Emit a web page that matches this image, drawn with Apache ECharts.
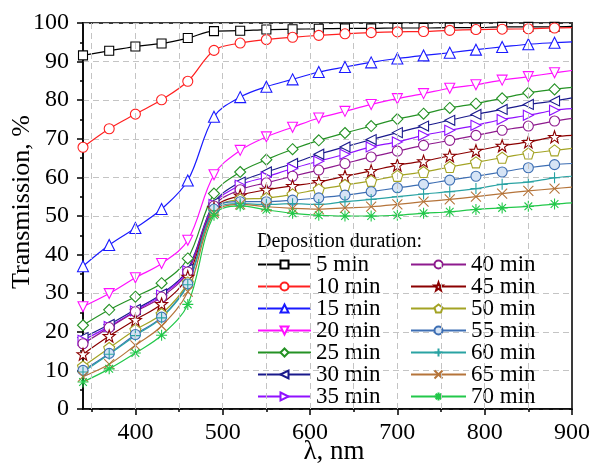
<!DOCTYPE html>
<html>
<head>
<meta charset="utf-8">
<script src="https://cdn.jsdelivr.net/npm/echarts@6/dist/echarts.min.js"></script>
<style>html,body{margin:0;padding:0;background:#fff;}#c{width:593px;height:470px;}</style>
</head>
<body>
<div id="c"></div>
<script>
// wavelengths (nm); the last point (900) carries no marker
const wavelengths = [340,370,400,430,460,490,520,550,580,610,640,670,700,730,760,790,820,850,880,900];
const names = ['5 min','10 min','15 min','20 min','25 min','30 min','35 min','40 min','45 min','50 min','55 min','60 min','65 min','70 min'];
const t5  = [91.6,92.8,93.9,94.7,96.1,97.9,98.0,98.3,98.4,98.5,98.6,98.6,98.7,98.7,98.8,98.8,99.0,99.0,99.0,99.1];
const t10 = [67.8,72.6,76.4,80.1,84.9,92.9,94.8,95.7,96.3,96.8,97.2,97.5,97.7,97.8,98.1,98.3,98.4,98.5,98.7,98.8];
const t15 = [37.0,42.5,46.9,51.8,59.2,75.7,80.8,83.5,85.4,87.3,88.6,89.8,90.8,91.6,92.3,93.1,93.8,94.5,94.9,95.1];
const t20 = [26.5,29.9,34.0,37.7,43.7,60.7,67.0,70.5,73.0,75.4,77.1,78.9,80.4,81.7,83.1,84.0,85.2,86.1,87.1,87.7];
const t25 = [21.7,25.7,29.1,32.6,39.0,55.8,61.4,64.6,67.3,69.6,71.5,73.3,75.1,76.5,78.0,79.1,80.5,81.9,82.8,83.3];
const t30 = [18.5,21.9,25.8,29.8,36.2,53.4,58.8,61.4,63.6,66.0,67.9,69.8,71.6,73.3,74.8,76.3,77.6,78.9,79.8,80.6];
const t35 = [17.8,21.4,25.4,29.5,35.8,53.0,58.0,60.1,62.3,64.2,66.0,67.9,69.2,70.9,72.2,73.5,75.0,76.1,77.4,77.8];
const t40 = [16.9,21.1,25.2,29.0,35.5,52.6,56.8,58.6,60.3,61.9,63.6,65.3,66.8,68.3,69.6,70.9,72.2,73.3,74.6,75.3];
const t45 = [14.2,18.9,23.1,27.2,34.3,52.0,55.3,56.8,57.8,58.8,60.3,61.7,63.2,64.2,65.6,66.9,68.2,69.2,70.5,70.9];
const t50 = [11.0,15.8,20.5,24.6,32.8,51.6,54.3,54.6,55.6,56.9,58.0,59.1,60.4,61.4,62.7,63.9,65.1,66.2,67.0,67.5];
const t55 = [10.0,14.4,19.3,23.8,32.4,51.8,53.7,53.7,54.1,54.7,55.4,56.3,57.3,58.2,59.3,60.3,61.4,62.5,63.3,63.6];
const t60 = [9.6,14.2,19.0,23.6,32.2,51.4,53.2,53.0,53.2,53.0,53.7,54.3,55.0,55.7,56.3,57.1,58.2,58.8,59.9,60.3];
const t65 = [8.4,11.6,16.5,21.5,30.4,50.8,53.0,52.4,52.0,51.8,52.1,52.4,53.0,53.7,54.3,55.0,55.8,56.5,57.1,57.5];
const t70 = [7.0,10.4,14.5,19.1,27.1,50.2,52.6,51.6,50.7,50.2,50.0,50.0,50.2,50.7,51.1,51.7,52.1,52.5,53.1,53.4];
const values = [t5,t10,t15,t20,t25,t30,t35,t40,t45,t50,t55,t60,t65,t70];

const xLabelTicks = [400,500,600,700,800,900];
const xMinorTicks = [350,450,550,650,750,850];
const xGridLines = [350,400,450,500,550,600,650,700,750,800,850];

const colors = ['#000000','#ff2020','#1a1aff','#ff10ff','#259225','#1a1a8c','#9010ff','#8e1a8e','#8b0000','#a3a324','#3d6eb3','#2aa3a3','#b5743a','#22c84a'];
const symbols = [
  'rect','circle','triangle',
  'path://M0,0 L10,0 L5,8.66 Z',
  'diamond',
  'path://M0,5 L8.66,0 L8.66,10 Z',
  'path://M0,0 L8.66,5 L0,10 Z',
  'circle',
  'path://M10,0 L12.35,6.76 L19.51,6.91 L13.8,11.24 L15.88,18.09 L10,14 L4.12,18.09 L6.2,11.24 L0.49,6.91 L7.65,6.76 Z',
  'path://M10,0 L19.51,6.91 L15.88,18.09 L4.12,18.09 L0.49,6.91 Z',
  'circle',
  'path://M5,0 L5,10 M0,5 L10,5',
  'path://M0,0 L10,10 M0,10 L10,0',
  'path://M5,0 L5,10 M0,5 L10,5 M1.5,1.5 L8.5,8.5 M1.5,8.5 L8.5,1.5'
];
const sizes = [9,10,11,10,11,10,10,10,12,11,10,11,10,11];
const fills = ['#fff','#fff','#fff','#fff','#fff','#fff','#fff','#fff','#fff','#fff','#d6e4f5','#fff','#fff','#fff'];

const serif = '"Liberation Serif","DejaVu Serif",serif';

const series = names.map((n, i) => ({
  name: n,
  type: 'line',
  z: 3,
  smooth: 0.35,
  color: colors[i],
  symbol: symbols[i],
  symbolSize: sizes[i],
  lineStyle: {color: colors[i], width: 1.2},
  itemStyle: {color: fills[i], borderColor: colors[i], borderWidth: 1.1},
  data: wavelengths.map((w, k) => k === wavelengths.length - 1
    ? {value: [w, values[i][k]], symbol: 'none'}
    : [w, values[i][k]])
}));
series.unshift({
  name: 'grid', type: 'line', z: 1, data: [], silent: true,
  markLine: {
    silent: true, symbol: ['none','none'], label: {show: false},
    lineStyle: {type: [6,4], color: '#c4c4c4', width: 1},
    emphasis: {disabled: true},
    data: xGridLines.map(v => ({xAxis: v}))
  }
});

const legendCommon = {
  orient: 'vertical', itemWidth: 53, itemHeight: 10, itemGap: -1,
  textStyle: {fontFamily: serif, fontSize: 23, color: '#000'},
  selectedMode: false, padding: 0
};

const chart = echarts.init(document.getElementById('c'), null, {renderer: 'canvas'});
chart.setOption({
  animation: false,
  backgroundColor: '#fff',
  grid: {left: 83, right: 21, top: 23, bottom: 61, show: true, borderColor: '#3a3a3a', borderWidth: 2},
  xAxis: [{
    type: 'value', min: 340, max: 900,
    axisLine: {lineStyle: {color: '#000', width: 1.5}},
    axisTick: {customValues: xLabelTicks, length: 6, lineStyle: {color: '#000', width: 1.5}},
    axisLabel: {customValues: xLabelTicks, margin: 12, fontFamily: serif, fontSize: 24, color: '#000'},
    splitLine: {show: false}
  }, {
    type: 'value', min: 340, max: 900, position: 'bottom',
    axisLine: {show: false},
    axisTick: {customValues: xMinorTicks, length: 3, lineStyle: {color: '#000', width: 1.5}},
    axisLabel: {show: false},
    splitLine: {show: false}
  }],
  yAxis: {
    type: 'value', min: 0, max: 100, interval: 10,
    axisLine: {show: true, lineStyle: {color: '#000', width: 1.5}},
    axisTick: {show: true, length: 6, lineStyle: {color: '#000', width: 1.5}},
    minorTick: {show: true, splitNumber: 2, length: 3, lineStyle: {color: '#000', width: 1.5}},
    axisLabel: {margin: 14, fontFamily: serif, fontSize: 24, color: '#000'},
    splitLine: {show: true, lineStyle: {type: [6,4], color: '#c4c4c4', width: 1}}
  },
  legend: [
    Object.assign({}, legendCommon, {data: names.slice(0,7), left: 257, top: 253}),
    Object.assign({}, legendCommon, {data: names.slice(7), left: 410, top: 253, itemWidth: 55})
  ],
  graphic: [
    {type: 'text', left: 257, top: 232, style: {text: 'Deposition duration:', font: '20px ' + serif, fill: '#000'}},
    {type: 'text', x: 22, y: 202, rotation: Math.PI / 2,
     style: {text: 'Transmission, %', font: '26px ' + serif, fill: '#000', align: 'center', verticalAlign: 'middle'}},
    {type: 'text', x: 334, y: 452,
     style: {text: 'λ, nm', font: '27px ' + serif, fill: '#000', align: 'center', verticalAlign: 'middle'}}
  ],
  series: series
});
</script>
</body>
</html>
